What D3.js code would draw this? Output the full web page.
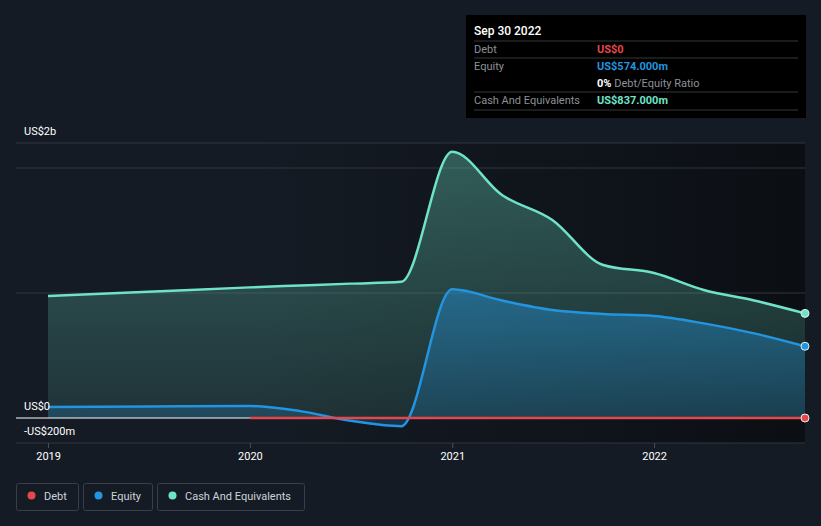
<!DOCTYPE html>
<html>
<head>
<meta charset="utf-8">
<script src="https://cdn.jsdelivr.net/npm/d3@7"></script>
<style>
  body { margin: 0; background: #151b24; }
  svg { display: block; font-family: Roboto, "Noto Sans", sans-serif; }
</style>
</head>
<body>
<div id="chart"></div>
<script>
// values in US$ billions
var dates = ["2018-12-31", "2019-06-30", "2019-12-31", "2020-03-31", "2020-06-30", "2020-09-30",
             "2020-12-31", "2021-03-31", "2021-06-30", "2021-09-30", "2021-12-31",
             "2022-03-31", "2022-06-30", "2022-09-30"];
var cash   = [0.976, 1.01, 1.045, 1.06, 1.075, 1.09, 2.13, 1.784, 1.584, 1.224, 1.16, 1.024, 0.94, 0.837];
var equity = [0.088, 0.092, 0.096, 0.055, -0.022, -0.065, 1.03, 0.94, 0.864, 0.832, 0.816, 0.757, 0.677, 0.574];
var debt   = [null, null, 0, 0, 0, 0, 0, 0, 0, 0, 0, 0, 0, 0];
var xTicks = ["2019-01-01", "2020-01-01", "2021-01-01", "2022-01-01"];
var yLabels = [{v: 2, t: "US$2b"}, {v: 0, t: "US$0"}, {v: -0.2, t: "-US$200m"}];
var gridVals = [2.2, 2, 1, -0.2];

var legendItems = [
  {name: "Debt", color: "#e5474b"},
  {name: "Equity", color: "#2394df"},
  {name: "Cash And Equivalents", color: "#6fe3c9"}
];

var W = 821, H = 526;
var left = 16, right = 805;
var parse = d3.timeParse("%Y-%m-%d");

var svg = d3.select("#chart").append("svg")
    .attr("width", W)
    .attr("height", H);

var x = d3.scaleTime()
    .domain([parse("2018-12-31"), parse("2022-09-30")])
    .range([48, right]);
var y = d3.scaleLinear()
    .domain([-0.2, 2.2])
    .range([443, 143]);

var defs = svg.append("defs");
var bgGrad = defs.append("linearGradient").attr("id", "bgGrad")
    .attr("x1", 0).attr("x2", 1).attr("y1", 0).attr("y2", 0);
bgGrad.append("stop").attr("offset", "0%").attr("stop-color", "#151b24");
bgGrad.append("stop").attr("offset", "30%").attr("stop-color", "#151b24");
bgGrad.append("stop").attr("offset", "100%").attr("stop-color", "#0b0f14");

var cashGrad = defs.append("linearGradient").attr("id", "cashGrad")
    .attr("gradientUnits", "userSpaceOnUse")
    .attr("x1", 0).attr("x2", 0).attr("y1", y(2.2)).attr("y2", y(0));
cashGrad.append("stop").attr("offset", "0%").attr("stop-color", "#6fe3c9").attr("stop-opacity", 0.35);
cashGrad.append("stop").attr("offset", "100%").attr("stop-color", "#6fe3c9").attr("stop-opacity", 0.12);

var eqGrad = defs.append("linearGradient").attr("id", "eqGrad")
    .attr("gradientUnits", "userSpaceOnUse")
    .attr("x1", 0).attr("x2", 0).attr("y1", y(1.05)).attr("y2", y(0));
eqGrad.append("stop").attr("offset", "0%").attr("stop-color", "#2394df").attr("stop-opacity", 0.45);
eqGrad.append("stop").attr("offset", "100%").attr("stop-color", "#2394df").attr("stop-opacity", 0.2);

// plot background
svg.append("rect")
    .attr("x", left).attr("y", y(2.2))
    .attr("width", right - left).attr("height", y(-0.2) - y(2.2))
    .attr("fill", "url(#bgGrad)");

// grid
svg.selectAll(".grid").data(gridVals).enter()
    .append("line")
    .attr("x1", left).attr("x2", right)
    .attr("y1", function(d) { return y(d); })
    .attr("y2", function(d) { return y(d); })
    .attr("stroke", "#30353d")
    .attr("stroke-width", 1);

var data = dates.map(function(d, i) {
  return {date: parse(d), cash: cash[i], equity: equity[i], debt: debt[i]};
});

var curve = d3.curveMonotoneX;

svg.append("path")
    .datum(data)
    .attr("d", d3.area().curve(curve)
      .x(function(d) { return x(d.date); })
      .y0(y(0))
      .y1(function(d) { return y(d.cash); }))
    .attr("fill", "url(#cashGrad)");

svg.append("path")
    .datum(data)
    .attr("d", d3.area().curve(curve)
      .x(function(d) { return x(d.date); })
      .y0(y(0))
      .y1(function(d) { return y(d.equity); }))
    .attr("fill", "url(#eqGrad)");

// zero line
svg.append("line")
    .attr("x1", left).attr("x2", right)
    .attr("y1", y(0)).attr("y2", y(0))
    .attr("stroke", "#ffffff")
    .attr("stroke-width", 1);

function drawLine(key, color) {
  svg.append("path")
      .datum(data)
      .attr("d", d3.line().curve(curve)
        .defined(function(d) { return d[key] !== null; })
        .x(function(d) { return x(d.date); })
        .y(function(d) { return y(d[key]); }))
      .attr("fill", "none")
      .attr("stroke", color)
      .attr("stroke-width", 2.5);
}
drawLine("cash", "#6fe3c9");
drawLine("equity", "#2394df");
drawLine("debt", "#e5474b");

var last = data[data.length - 1];
[["debt", "#e5474b"], ["equity", "#2394df"], ["cash", "#6fe3c9"]].forEach(function(k) {
  svg.append("circle")
      .attr("cx", x(last.date))
      .attr("cy", y(last[k[0]]))
      .attr("r", 4)
      .attr("fill", k[1])
      .attr("stroke", "#e8eef2")
      .attr("stroke-width", 1);
});

// x axis
var xa = svg.selectAll(".xt").data(xTicks).enter().append("g")
    .attr("transform", function(d) { return "translate(" + x(parse(d)) + ",0)"; });
xa.append("line")
    .attr("y1", 443).attr("y2", 448)
    .attr("stroke", "#4a4f57");
xa.append("text")
    .attr("y", 460)
    .attr("text-anchor", "middle")
    .attr("fill", "#ffffff")
    .attr("font-size", 11)
    .text(function(d) { return d.slice(0, 4); });

// y labels
svg.selectAll(".yl").data(yLabels).enter()
    .append("text")
    .attr("x", 24)
    .attr("y", function(d) { return d.v === 2 ? 135 : y(d.v) - 8; })
    .attr("fill", "#ffffff")
    .attr("font-size", 11)
    .text(function(d) { return d.t; });

// tooltip box
var tip = svg.append("g");
tip.append("rect")
    .attr("x", 466).attr("y", 15)
    .attr("width", 340).attr("height", 103)
    .attr("fill", "#000000");
tip.append("text")
    .attr("x", 474).attr("y", 35)
    .attr("fill", "#ffffff").attr("font-size", 12).attr("font-weight", 500)
    .text("Sep 30 2022");
[41, 58, 92, 110].forEach(function(yy) {
  tip.append("line")
      .attr("x1", 474).attr("x2", 798)
      .attr("y1", yy).attr("y2", yy)
      .attr("stroke", "#33363b");
});
var rows = [
  {label: "Debt", value: "US$0", color: "#e5474b", y: 53},
  {label: "Equity", value: "US$574.000m", color: "#2394df", y: 70},
  {label: "Cash And Equivalents", value: "US$837.000m", color: "#6fe3c9", y: 104}
];
rows.forEach(function(r) {
  tip.append("text").attr("x", 474).attr("y", r.y)
      .attr("fill", "#8c9096").attr("font-size", 11).text(r.label);
  tip.append("text").attr("x", 597).attr("y", r.y)
      .attr("fill", r.color).attr("font-size", 11).attr("font-weight", 700).text(r.value);
});
var ratio = tip.append("text").attr("x", 597).attr("y", 87).attr("font-size", 11);
ratio.append("tspan").attr("fill", "#ffffff").attr("font-weight", 700).text("0%");
ratio.append("tspan").attr("fill", "#8c9096").text(" Debt/Equity Ratio");

// legend
var lx = [16, 83, 157], lw = [62, 69, 147];
var lg = svg.selectAll(".lg").data(legendItems).enter().append("g")
    .attr("transform", function(d, i) { return "translate(" + lx[i] + ",483)"; });
lg.append("rect")
    .attr("x", 0.5).attr("y", 0.5)
    .attr("width", function(d, i) { return lw[i]; })
    .attr("height", 27)
    .attr("rx", 2)
    .attr("fill", "none")
    .attr("stroke", "#3a3f47");
lg.append("circle")
    .attr("cx", 15.5).attr("cy", 12.5).attr("r", 4)
    .attr("fill", function(d) { return d.color; });
lg.append("text")
    .attr("x", 28).attr("y", 16.5)
    .attr("fill", "#cfd3d8").attr("font-size", 11)
    .text(function(d) { return d.name; });
</script>
</body>
</html>
